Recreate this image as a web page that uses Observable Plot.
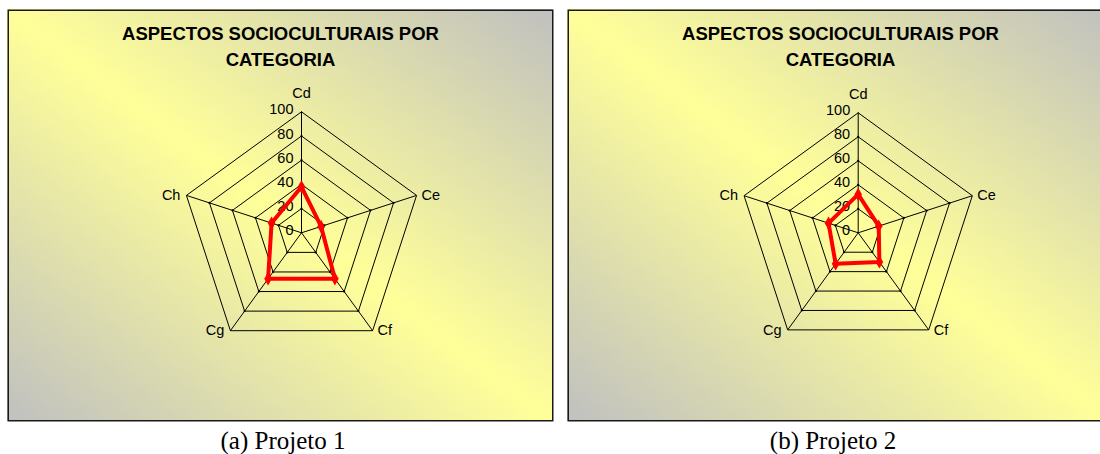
<!DOCTYPE html>
<html><head><meta charset="utf-8">
<script src="https://cdn.jsdelivr.net/npm/d3@7"></script>
<script src="https://cdn.jsdelivr.net/npm/@observablehq/plot@0.6"></script>
<style>
html,body{margin:0;padding:0;background:#fff;}
body{width:1100px;height:454px;position:relative;overflow:hidden;font-family:"Liberation Sans",Arial,sans-serif;}
.panel{position:absolute;top:9px;width:546px;height:412px;background:linear-gradient(to bottom left,#c0c0c0 0%,#ffff99 50%,#c0c0c0 100%);}
.panel svg{position:absolute;left:0;top:0;background:transparent;overflow:visible;}
.caption{position:absolute;top:428px;width:300px;text-align:center;font:25px/25px "Liberation Serif","Times New Roman",serif;color:#000;white-space:nowrap;}
</style></head><body>
<div id="p1" class="panel" style="left:7px"></div>
<div id="p2" class="panel" style="left:567px"></div>
<div class="caption" style="left:133px">(a) Projeto 1</div>
<div class="caption" style="left:683px">(b) Projeto 2</div>
<script>
// ---- data ----
const categories = ["Cd", "Ce", "Cf", "Cg", "Ch"];
const projeto1 = [38, 17, 47, 47, 26];
const projeto2 = [32, 18, 30, 32, 26];
const levels = [0, 20, 40, 60, 80, 100];
const title = "ASPECTOS SOCIOCULTURAIS POR\nCATEGORIA";

function radar(values, layout) {
  const W = 546, H = 412, R = layout.r, cx = layout.cx, cy = layout.cy;
  const n = categories.length;
  const ang = i => (2 * Math.PI * i) / n;
  const pt = (v, i) => ({x: v * Math.sin(ang(i)), y: v * Math.cos(ang(i))});
  const rings = [];
  levels.filter(l => l > 0).forEach(l => {
    for (let i = 0; i <= n; i++) rings.push({level: l, ...pt(l, i % n)});
  });
  const spokes = categories.map((c, i) => ({c, ...pt(100, i)}));
  const ticks = [];
  levels.filter(l => l > 0 && l < 100).forEach(l => categories.forEach((c, i) => ticks.push(pt(l, i))));
  const series = [];
  for (let i = 0; i <= n; i++) series.push({cat: categories[i % n], ...pt(values[i % n], i % n)});
  const tickLabels = levels.map(l => ({label: String(l), ...pt(l, 0)}));
  const labTop = spokes.filter((d, i) => Math.abs(Math.sin(ang(i))) < 1e-6);
  const labRight = spokes.filter((d, i) => Math.sin(ang(i)) > 1e-6);
  const labLeft = spokes.filter((d, i) => Math.sin(ang(i)) < -1e-6);
  const font = "Liberation Sans, Arial, sans-serif";
  return Plot.plot({
    width: W, height: H, margin: 0,
    style: {background: "transparent", fontFamily: font, overflow: "visible"},
    x: {type: "linear", domain: [-100, 100], range: [cx - R, cx + R], axis: null},
    y: {type: "linear", domain: [-100, 100], range: [cy + R, cy - R], axis: null},
    marks: [
      Plot.frame({stroke: "#1a1a1a", strokeWidth: 1.5, inset: 0.75}),
      Plot.text([title], {frameAnchor: "top", lineAnchor: "top", dy: 12, text: d => d,
        fontSize: 18.5, fontWeight: "bold", fill: "#000", lineHeight: 1.4, fontFamily: font}),
      Plot.line(rings, {x: "x", y: "y", z: "level", stroke: "#000", strokeWidth: 1}),
      Plot.link(spokes, {x1: 0, y1: 0, x2: "x", y2: "y", stroke: "#000", strokeWidth: 1}),
      Plot.dot(ticks, {x: "x", y: "y", r: 1.1, fill: "#000", stroke: null}),
      Plot.text(tickLabels, {x: "x", y: "y", text: "label", textAnchor: "end", dx: -8, dy: -2,
        fontSize: 14.5, fill: "#000", fontFamily: font}),
      Plot.text(labTop, {x: "x", y: "y", text: "c", textAnchor: "middle", dy: -18, fontSize: 14.5, fill: "#000", fontFamily: font}),
      Plot.text(labRight, {x: "x", y: "y", text: "c", textAnchor: "start", dx: 5, dy: 0, fontSize: 14.5, fill: "#000", fontFamily: font}),
      Plot.text(labLeft, {x: "x", y: "y", text: "c", textAnchor: "end", dx: -6, dy: 0, fontSize: 14.5, fill: "#000", fontFamily: font}),
      Plot.line(series, {x: "x", y: "y", stroke: "#ff0000", strokeWidth: 4, strokeLinejoin: "round", strokeLinecap: "round"}),
      Plot.dot(series.slice(0, n), {x: "x", y: "y", symbol: "diamond", r: 4, fill: "#ff0000", stroke: null})
    ]
  });
}

document.getElementById("p1").appendChild(radar(projeto1, {cx: 294, cy: 223.3, r: 121}));
document.getElementById("p2").appendChild(radar(projeto2, {cx: 290.7, cy: 223.3, r: 120}));
</script>
</body></html>
